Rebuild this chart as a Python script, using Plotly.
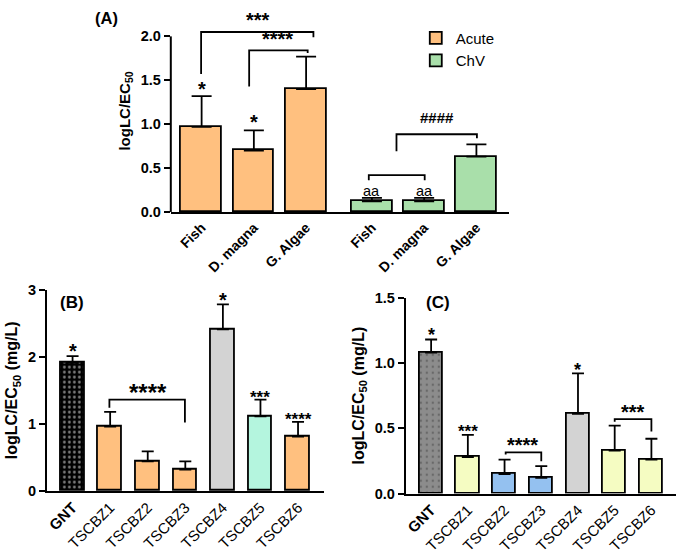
import plotly.graph_objects as go

# ---------------- data ----------------
A_species = ["Fish", "D. magna", "G. Algae"]
acute_vals = [0.97, 0.70, 1.40]
acute_err = [0.35, 0.23, 0.37]
chv_vals = [0.12, 0.12, 0.63]
chv_err = [0.04, 0.04, 0.14]
acute_pos = [0, 1, 2]
chv_pos = [3.26, 4.26, 5.26]
A_yticks = [0, 0.5, 1.0, 1.5, 2.0]

B_labels = ["GNT", "TSCBZ1", "TSCBZ2", "TSCBZ3", "TSCBZ4", "TSCBZ5", "TSCBZ6"]
B_vals = [1.91, 0.96, 0.44, 0.32, 2.41, 1.11, 0.81]
B_err = [0.10, 0.22, 0.15, 0.12, 0.37, 0.25, 0.22]
B_colors = ["#000000", "#FFC07F", "#FFC07F", "#FFC07F", "#D3D3D3", "#B4F5DE", "#FFC07F"]
B_yticks = [0, 1, 2, 3]

C_labels = ["GNT", "TSCBZ1", "TSCBZ2", "TSCBZ3", "TSCBZ4", "TSCBZ5", "TSCBZ6"]
C_vals = [1.08, 0.28, 0.15, 0.12, 0.61, 0.33, 0.26]
C_err = [0.10, 0.17, 0.11, 0.09, 0.31, 0.19, 0.16]
C_colors = ["#8C8C8C", "#F5FCC2", "#94C1F0", "#94C1F0", "#D3D3D3", "#F5FCC2", "#F5FCC2"]
C_yticks = [0, 0.5, 1.0, 1.5]

# significance marks: (x, y, text, size, bold)
A_marks = [(0, 1.40, "*", 20, True), (1, 1.02, "*", 20, True),
           (1.07, 2.19, "***", 20, True), (1.46, 1.97, "****", 20, True),
           (3.26, 0.24, "aa", 14.5, False), (4.26, 0.24, "aa", 14.5, False),
           (4.5, 1.08, "####", 15, True)]
# brackets: (x_left, y_left_bottom, x_right, y_right_bottom, y_top)
A_brackets = [(-0.01, 1.57, 2.14, 1.99, 2.05), (0.91, 1.43, 2.03, 1.81, 1.84),
              (3.20, 0.36, 4.27, 0.36, 0.42), (3.73, 0.69, 5.27, 0.84, 0.885)]

B_marks = [(0, 2.08, "*", 20, True), (2, 1.46, "****", 24, True),
           (4, 2.85, "*", 20, True), (5, 1.39, "***", 17, True), (6, 1.06, "****", 17, True)]
B_brackets = [(0.98, 1.24, 2.99, 1.02, 1.36)]

C_marks = [(0, 1.215, "*", 18, True), (1, 0.475, "***", 17, True),
           (2.5, 0.375, "****", 20, True), (4, 0.95, "*", 18, True), (5.5, 0.625, "***", 20, True)]
C_brackets = [(2.03, 0.30, 3.0, 0.248, 0.315), (5.0, 0.55, 6.0, 0.476, 0.57)]

FONT = "Liberation Sans, Arial, sans-serif"
W, H = 677, 555

fig = go.Figure()

line = dict(color="black", width=1.8)


def err(arr, w):
    return dict(type="data", array=arr, arrayminus=[0] * len(arr), symmetric=False,
                color="black", thickness=1.8, width=w)


fig.add_trace(go.Bar(x=acute_pos, y=acute_vals, name="Acute", width=0.78,
                     marker=dict(color="#FFC07F", line=line), error_y=err(acute_err, 10),
                     xaxis="x", yaxis="y"))
fig.add_trace(go.Bar(x=chv_pos, y=chv_vals, name="ChV", width=0.78,
                     marker=dict(color="#A9DFAA", line=line), error_y=err(chv_err, 10),
                     xaxis="x", yaxis="y"))

fig.add_trace(go.Bar(x=list(range(len(B_labels))), y=B_vals, width=0.63, showlegend=False,
                     marker=dict(color=B_colors, line=line,
                                 pattern=dict(shape=["."] + [""] * 6, fgcolor="white",
                                              size=5, solidity=0.25)),
                     error_y=err(B_err, 6), xaxis="x2", yaxis="y2"))
fig.add_trace(go.Bar(x=list(range(len(C_labels))), y=C_vals, width=0.63, showlegend=False,
                     marker=dict(color=C_colors, line=line,
                                 pattern=dict(shape=["."] + [""] * 6, fgcolor="#333333",
                                              size=6, solidity=0.12)),
                     error_y=err(C_err, 6), xaxis="x3", yaxis="y3"))

A_dom_x = [169.3 / W, 508.3 / W]
A_dom_y = [1 - 210 / H, 1 - 2.1 / H]
A_range_y = [0, 2.3]
B_dom_x = [45 / W, 323.3 / W]
B_dom_y = [1 - 497.3 / H, 1 - 290 / H]
C_dom_x = [405 / W, 676 / W]
C_dom_y = [1 - 500 / H, 1 - 298.3 / H]

common_x = dict(showline=True, linecolor="black", linewidth=2, ticks="", showgrid=False,
                zeroline=False, tickangle=-45, tickmode="array")
common_y = dict(linecolor="black", linewidth=2, ticks="outside", ticklen=6, tickwidth=2,
                tickcolor="black", showgrid=False, zeroline=False, tickmode="array",
                tickfont=dict(family=FONT, size=14.5, color="black"))


def b(s):
    return "<b>%s</b>" % s


fig.update_layout(
    width=W, height=H, margin=dict(l=0, r=0, t=0, b=0),
    plot_bgcolor="white", paper_bgcolor="white", bargap=0,
    font=dict(family=FONT, color="black"),
    xaxis=dict(domain=A_dom_x, range=[-0.59, 5.88], anchor="y",
               tickvals=acute_pos + chv_pos, ticktext=[b(s) for s in A_species * 2],
               tickfont=dict(family=FONT, size=14, color="black"), **common_x),
    yaxis=dict(domain=A_dom_y, range=A_range_y, anchor="x", showline=False,
               tickvals=A_yticks, ticktext=[b("%.1f" % v) for v in A_yticks],
               title=dict(text=b("logLC/EC<sub>50</sub>"), font=dict(family=FONT, size=15),
                          standoff=6), **common_y),
    xaxis2=dict(domain=B_dom_x, range=[-0.684, 6.70], anchor="y2",
                tickvals=list(range(7)),
                ticktext=[b("GNT")] + B_labels[1:], tickfont=dict(family=FONT, size=15, color="black"),
                **common_x),
    yaxis2=dict(domain=B_dom_y, range=[0, 3], anchor="x2", showline=True,
                tickvals=B_yticks, ticktext=[b(v) for v in B_yticks],
                title=dict(text=b("logLC/EC<sub>50</sub> (mg/L)"), font=dict(family=FONT, size=16),
                           standoff=6), **common_y),
    xaxis3=dict(domain=C_dom_x, range=[-0.69, 6.67], anchor="y3",
                tickvals=list(range(7)),
                ticktext=[b("GNT")] + C_labels[1:], tickfont=dict(family=FONT, size=15, color="black"),
                **common_x),
    yaxis3=dict(domain=C_dom_y, range=[0, 1.5], anchor="x3", showline=True,
                tickvals=C_yticks, ticktext=[b("%.1f" % v) for v in C_yticks],
                title=dict(text=b("logLC/EC<sub>50</sub> (mg/L)"), font=dict(family=FONT, size=16),
                           standoff=6), **common_y),
    legend=dict(x=415 / W, y=1 - 14 / H, xanchor="left", yanchor="top",
                font=dict(family=FONT, size=15, color="black"), bgcolor="rgba(0,0,0,0)",
                itemwidth=30, tracegroupgap=0),
)


def ypaper(v, dom, rng):
    return dom[0] + (v - rng[0]) / (rng[1] - rng[0]) * (dom[1] - dom[0])


# y axis line of panel A (only up to 2.0)
fig.add_shape(type="line", xref="paper", yref="paper", x0=A_dom_x[0], x1=A_dom_x[0],
              y0=ypaper(0, A_dom_y, A_range_y), y1=ypaper(2.0, A_dom_y, A_range_y),
              line=dict(color="black", width=2))


def add_brackets(brs, xr, yr):
    for xl, ylb, xrr, yrb, yt in brs:
        fig.add_shape(type="path", xref=xr, yref=yr,
                      path=f"M {xl},{ylb} L {xl},{yt} L {xrr},{yt} L {xrr},{yrb}",
                      line=dict(color="black", width=1.8))


def add_marks(marks, xr, yr):
    for x, y, t, s, bold in marks:
        fig.add_annotation(x=x, y=y, xref=xr, yref=yr, text=b(t) if bold else t,
                           showarrow=False, font=dict(family=FONT, size=s, color="black"),
                           yanchor="middle")


add_brackets(A_brackets, "x", "y")
add_brackets(B_brackets, "x2", "y2")
add_brackets(C_brackets, "x3", "y3")
add_marks(A_marks, "x", "y")
add_marks(B_marks, "x2", "y2")
add_marks(C_marks, "x3", "y3")

# panel labels
fig.add_annotation(x=105 / W, y=1.0, xref="paper", yref="paper", text=b("(A)"),
                   showarrow=False, font=dict(family=FONT, size=16.5, color="black"),
                   xanchor="center", yanchor="top", borderpad=0)
for txt, px, py in [("(B)", 70, 303), ("(C)", 437, 303)]:
    fig.add_annotation(x=px / W, y=1 - py / H, xref="paper", yref="paper", text=b(txt),
                       showarrow=False, font=dict(family=FONT, size=17, color="black"),
                       xanchor="center", yanchor="middle")

fig.write_html("out.html")
